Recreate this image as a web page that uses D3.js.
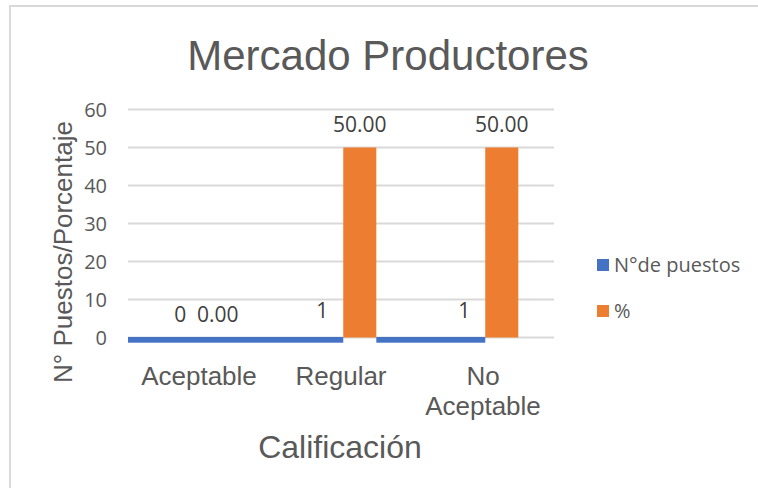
<!DOCTYPE html>
<html>
<head>
<meta charset="utf-8">
<script src="https://cdn.jsdelivr.net/npm/d3@7"></script>
<style>
  html, body { margin: 0; padding: 0; background: #fff; overflow: hidden; }
  svg { display: block; }
</style>
</head>
<body>
<svg id="chart" width="758" height="488"></svg>
<script>
// Chart data
const categories = ["Aceptable", "Regular", "No Aceptable"];
const puestos = [0, 1, 1];
const porcentaje = [0, 50, 50];
const seriesNames = ["N°de puestos", "%"];
const yTicks = [0, 10, 20, 30, 40, 50, 60];

const colors = { puestos: "#4472c4", pct: "#ed7d31" };
const textColor = "#595959";
const labelColor = "#404040";
const sansA = "'Liberation Sans', Arial, sans-serif";
const sansB = "'Open Sans', 'Noto Sans', sans-serif";

const svg = d3.select("#chart");

// chart frame (top and left edges fall inside the view)
svg.append("path")
  .attr("d", "M10,488 L10,6 L758,6")
  .attr("fill", "none").attr("stroke", "#d9d9d9").attr("stroke-width", 2);

const plot = { left: 128, right: 554, top: 109.5, bottom: 337.5 };

const x = d3.scaleBand().domain(categories).range([plot.left, plot.right]).padding(0);
const y = d3.scaleLinear().domain([0, 60]).range([plot.bottom, plot.top]);

// bar position inside each category: blue left, orange right
const inner = d3.scaleBand().domain(["puestos", "pct"]).range([0, x.bandwidth()]).paddingInner(0.12).paddingOuter(0.95);

// title
svg.append("text")
  .attr("x", 388).attr("y", 70)
  .attr("text-anchor", "middle")
  .attr("font-family", sansA).attr("font-size", 42)
  .attr("fill", textColor)
  .text("Mercado Productores");

// gridlines
svg.append("g").selectAll("line").data(yTicks).join("line")
  .attr("x1", plot.left).attr("x2", plot.right)
  .attr("y1", d => y(d)).attr("y2", d => y(d))
  .attr("stroke", "#d9d9d9").attr("stroke-width", 2);

// y tick labels
svg.append("g").selectAll("text").data(yTicks).join("text")
  .attr("x", 107).attr("y", d => y(d))
  .attr("dy", "0.36em")
  .attr("text-anchor", "end")
  .attr("font-family", sansB).attr("font-size", 20)
  .attr("fill", textColor)
  .text(d => d);

// orange bars (%)
const pctX0 = i => x(categories[i]) + inner("pct");
const pctX1 = i => pctX0(i) + inner.bandwidth();
svg.append("g").selectAll("rect").data(porcentaje).join("rect")
  .attr("x", (d, i) => pctX0(i))
  .attr("width", inner.bandwidth())
  .attr("y", d => y(d))
  .attr("height", d => y(0) - y(d))
  .attr("fill", colors.pct);

// blue bars (N° de puestos): each filled strip runs from the previous
// visible orange bar (or the axis start) up to its own orange bar
const blueRects = [];
let start = plot.left;
puestos.forEach((v, i) => {
  if (v > 0) {
    blueRects.push({ v, x0: start, x1: pctX0(i) });
  }
  if (porcentaje[i] > 0) start = pctX1(i);
});
svg.append("g").selectAll("rect").data(blueRects).join("rect")
  .attr("x", d => d.x0)
  .attr("width", d => d.x1 - d.x0)
  .attr("y", y(0) - 0.5)
  .attr("height", d => (y(0) - y(d.v)) * 1.5)
  .attr("fill", colors.puestos);

// data labels
const labels = [];
categories.forEach((c, i) => {
  labels.push({ x: x(c) + inner("puestos") + inner.bandwidth() / 2, v: puestos[i], text: d3.format("d")(puestos[i]) });
  labels.push({ x: x(c) + inner("pct") + inner.bandwidth() / 2, v: porcentaje[i], text: d3.format(".2f")(porcentaje[i]) });
});
svg.append("g").selectAll("text").data(labels).join("text")
  .attr("x", d => d.x)
  .attr("y", d => y(d.v) - 16)
  .attr("text-anchor", "middle")
  .attr("font-family", sansB).attr("font-size", 21)
  .attr("fill", labelColor)
  .text(d => d.text);

// x category labels (wrapped)
const xLab = svg.append("g").selectAll("text").data(categories).join("text")
  .attr("x", d => x(d) + x.bandwidth() / 2)
  .attr("y", 385)
  .attr("text-anchor", "middle")
  .attr("font-family", sansA).attr("font-size", 26)
  .attr("fill", textColor);
xLab.each(function(d) {
  const words = d === "No Aceptable" ? ["No", "Aceptable"] : [d];
  d3.select(this).selectAll("tspan").data(words).join("tspan")
    .attr("x", x(d) + x.bandwidth() / 2)
    .attr("dy", (w, j) => j === 0 ? 0 : 30)
    .text(w => w);
});

// axis titles
svg.append("text")
  .attr("x", 340).attr("y", 458)
  .attr("text-anchor", "middle")
  .attr("font-family", sansA).attr("font-size", 32)
  .attr("fill", textColor)
  .text("Calificación");

svg.append("text")
  .attr("transform", "translate(72,252) rotate(-90)")
  .attr("text-anchor", "middle")
  .attr("font-family", sansA).attr("font-size", 26)
  .attr("fill", textColor)
  .text("N° Puestos/Porcentaje");

// legend
const legend = svg.append("g").selectAll("g").data(seriesNames).join("g")
  .attr("transform", (d, i) => `translate(597,${259 + i * 46})`);
legend.append("rect")
  .attr("width", 12).attr("height", 12)
  .attr("fill", (d, i) => i === 0 ? colors.puestos : colors.pct);
legend.append("text")
  .attr("x", 17).attr("y", 6).attr("dy", "0.36em")
  .attr("font-family", sansB).attr("font-size", 20)
  .attr("fill", textColor)
  .text(d => d);
</script>
</body>
</html>
